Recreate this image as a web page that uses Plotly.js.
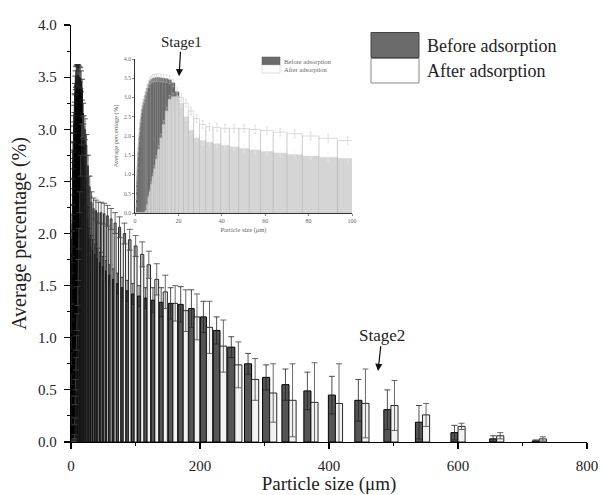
<!DOCTYPE html>
<html>
<head>
<meta charset="utf-8">
<script src="https://cdn.plot.ly/plotly-3.0.1.min.js"></script>
<style>html,body{margin:0;padding:0;background:#fff;}#chart{width:604px;height:495px;}</style>
</head>
<body>
<div id="chart"></div>
<script>
// Particle size bins (µm)
const sizes = [0.62,0.68,0.75,0.82,0.9,1.0,1.1,1.2,1.35,1.5,1.6,1.8,2.0,2.2,2.4,2.6,2.9,3.2,3.5,3.8,4.2,4.6,5.1,5.6,6.2,6.8,7.5,8.2,9.0,9.9,10.9,12.0,13.2,14.6,16.0,17.6,19.4,21.3,23.5,25.8,28.4,31.2,34.3,37.8,41.5,45.7,50.3,55.3,60.8,66.9,73.6,81,89,98,108,118,130,143,158,174,191,210,231,254,280,308,338,372,410,451,496,545,600,660,726];
// Average percentage (%) before adsorption
const before = [0.2,0.4,0.6,0.8,0.95,1.1,1.25,1.4,1.55,1.7,1.8,1.95,2.1,2.2,2.35,2.45,2.6,2.7,2.8,2.88,2.95,3.05,3.15,3.25,3.35,3.42,3.47,3.5,3.51,3.52,3.52,3.51,3.5,3.49,3.46,3.38,3.15,2.85,2.5,2.15,1.95,1.88,1.84,1.8,1.76,1.72,1.68,1.64,1.6,1.56,1.52,1.48,1.45,1.42,1.40,1.38,1.36,1.34,1.33,1.32,1.28,1.2,1.07,0.91,0.75,0.62,0.55,0.49,0.45,0.40,0.31,0.19,0.09,0.03,0.01];
// Average percentage (%) after adsorption
const after = [0,0,0,0,0,0,0,0,0,0,0,0,0,0,0,0,0,0,0,0,0,0.02,0.05,0.2,0.4,0.55,0.75,0.95,1.15,1.4,1.65,1.95,2.3,2.65,2.95,3.02,3.03,3.0,2.85,2.65,2.45,2.3,2.24,2.22,2.2,2.2,2.19,2.17,2.14,2.1,2.06,2.0,1.94,1.88,1.8,1.7,1.56,1.44,1.33,1.26,1.2,1.1,0.92,0.74,0.6,0.47,0.40,0.38,0.37,0.37,0.35,0.26,0.15,0.06,0.03];
// Error bars
const errBefore = [0.04,0.05,0.05,0.06,0.06,0.06,0.07,0.07,0.07,0.08,0.08,0.08,0.08,0.08,0.08,0.08,0.08,0.08,0.08,0.08,0.08,0.08,0.08,0.09,0.09,0.09,0.09,0.1,0.1,0.1,0.1,0.1,0.1,0.1,0.1,0.1,0.1,0.1,0.1,0.1,0.1,0.1,0.1,0.1,0.1,0.1,0.1,0.1,0.1,0.1,0.1,0.1,0.1,0.1,0.1,0.1,0.12,0.14,0.15,0.17,0.18,0.15,0.13,0.1,0.1,0.12,0.15,0.18,0.18,0.2,0.19,0.16,0.07,0.03,0.01];
const errAfter = [0,0,0,0,0,0,0,0,0,0,0,0,0,0,0,0,0,0,0,0,0,0.01,0.02,0.03,0.04,0.05,0.06,0.07,0.08,0.09,0.1,0.1,0.1,0.1,0.1,0.1,0.1,0.1,0.1,0.1,0.1,0.1,0.1,0.1,0.1,0.1,0.1,0.1,0.1,0.1,0.1,0.1,0.1,0.1,0.12,0.13,0.15,0.16,0.17,0.2,0.22,0.25,0.25,0.22,0.2,0.28,0.35,0.38,0.38,0.33,0.24,0.11,0.03,0.03,0.02];

const seriesNames = ['Before adsorption', 'After adsorption'];
const xTitle = 'Particle size (μm)';
const yTitle = 'Average percentage (%)';

// bar widths (style)
const wMain = sizes.map(c => Math.min(0.045 * c, 11));
const wInset = sizes.map(c => 0.095 * c);

const serif = 'Liberation Serif, Times New Roman, serif';
const traces = [
  {type:'bar', x:sizes, y:before, width:wMain, offset:wMain.map(w=>-w), name:seriesNames[0],
   marker:{color:'#555555', line:{color:'#000', width:1}},
   error_y:{type:'data', array:errBefore, color:'#222', thickness:0.8, width:3}, xaxis:'x', yaxis:'y'},
  {type:'bar', x:sizes, y:after, width:wMain, offset:wMain.map(w=>0), name:seriesNames[1],
   marker:{color:'#f2f2f2', line:{color:'#111', width:0.9}},
   error_y:{type:'data', array:errAfter, color:'#444', thickness:0.8, width:3}, xaxis:'x', yaxis:'y'},
  {type:'bar', x:sizes, y:before, width:wInset, offset:wInset.map(w=>-w/2), name:seriesNames[0],
   marker:{color:'#6a6a6a', line:{color:'#6a6a6a', width:0.3}},
   error_y:{type:'data', array:errBefore, color:'#c4c4c4', thickness:0.5, width:1}, xaxis:'x2', yaxis:'y2'},
  {type:'bar', x:sizes, y:after, width:wInset, offset:wInset.map(w=>-w/2), name:seriesNames[1],
   marker:{color:'rgba(255,255,255,0.72)', line:{color:'#b8b8b8', width:0.5}},
   error_y:{type:'data', array:errAfter, color:'#c4c4c4', thickness:0.5, width:1}, xaxis:'x2', yaxis:'y2'}
];

const L = 71, T = 25, W = 516, H = 417;
const fx = px => (px - L) / W;
const fy = py => (T + H - py) / H;

const shapes = [
  {type:'rect', xref:'paper', yref:'paper', x0:fx(371), x1:fx(419), y0:fy(57.5), y1:fy(32.5), fillcolor:'#6b6b6b', line:{color:'#444', width:1}},
  {type:'rect', xref:'paper', yref:'paper', x0:fx(371), x1:fx(419), y0:fy(83), y1:fy(58.5), fillcolor:'#ffffff', line:{color:'#888', width:1}},
  {type:'rect', xref:'paper', yref:'paper', x0:fx(262), x1:fx(280), y0:fy(65), y1:fy(57), fillcolor:'#6b6b6b', line:{color:'#555', width:0.5}},
  {type:'rect', xref:'paper', yref:'paper', x0:fx(262), x1:fx(280), y0:fy(73), y1:fy(65), fillcolor:'#ffffff', line:{color:'#bbb', width:0.5}}
];

const annotations = [
  {xref:'paper', yref:'paper', x:fx(425), y:fy(46), xanchor:'left', yanchor:'middle', text:seriesNames[0], showarrow:false, font:{family:serif, size:18, color:'#222'}},
  {xref:'paper', yref:'paper', x:fx(425), y:fy(71), xanchor:'left', yanchor:'middle', text:seriesNames[1], showarrow:false, font:{family:serif, size:18, color:'#222'}},
  {xref:'paper', yref:'paper', x:fx(282), y:fy(61), xanchor:'left', yanchor:'middle', text:seriesNames[0], showarrow:false, font:{family:serif, size:6.5, color:'#666'}},
  {xref:'paper', yref:'paper', x:fx(282), y:fy(69), xanchor:'left', yanchor:'middle', text:seriesNames[1], showarrow:false, font:{family:serif, size:6.5, color:'#666'}},
  {xref:'x2', yref:'y2', x:20.3, y:3.55, ax:2, ay:-34, text:'Stage1', showarrow:true, arrowhead:2, arrowsize:1.2, arrowwidth:1.2, arrowcolor:'#111', font:{family:serif, size:15, color:'#222'}},
  {xref:'x', yref:'y', x:476, y:0.68, ax:4, ay:-36, text:'Stage2', showarrow:true, arrowhead:2, arrowsize:1.2, arrowwidth:1.2, arrowcolor:'#111', font:{family:serif, size:17, color:'#222'}}
];

const layout = {
  width:604, height:495,
  margin:{l:L, r:604-L-W, t:T, b:495-T-H, pad:0},
  paper_bgcolor:'#fff', plot_bgcolor:'#fff',
  barmode:'overlay', showlegend:false,
  font:{family:serif, color:'#222'},
  xaxis:{domain:[0,1], anchor:'y', range:[0,800], tick0:0, dtick:200, showgrid:false, zeroline:false,
    showline:true, linecolor:'#000', linewidth:1.3, ticks:'outside', ticklen:6, tickwidth:1.2, tickcolor:'#000',
    minor:{dtick:100, ticks:'outside', ticklen:3, tickwidth:1, tickcolor:'#000'},
    tickfont:{family:serif, size:15, color:'#222'}, ticklabelstandoff:4,
    title:{text:xTitle, font:{family:serif, size:19, color:'#222'}, standoff:4}},
  yaxis:{domain:[0,1], anchor:'x', range:[0,4], tick0:0, dtick:0.5, tickformat:'.1f', showgrid:false, zeroline:false,
    showline:true, linecolor:'#000', linewidth:1.3, ticks:'outside', ticklen:6, tickwidth:1.2, tickcolor:'#000',
    minor:{dtick:0.25, ticks:'outside', ticklen:3, tickwidth:1, tickcolor:'#000'},
    tickfont:{family:serif, size:15, color:'#222'}, ticklabelstandoff:4,
    title:{text:yTitle, font:{family:serif, size:20, color:'#222'}, standoff:6}},
  xaxis2:{domain:[fx(135), fx(352)], anchor:'y2', range:[0,100], tick0:0, dtick:20, showgrid:false, zeroline:false,
    showline:true, linecolor:'#333', linewidth:1, ticks:'outside', ticklen:2, tickwidth:0.6, tickcolor:'#333',
    tickfont:{family:serif, size:6, color:'#666'},
    title:{text:xTitle, font:{family:serif, size:6.5, color:'#666'}, standoff:4}},
  yaxis2:{domain:[fy(213), fy(59)], anchor:'x2', range:[0,4], tick0:0, dtick:0.5, tickformat:'.1f', showgrid:false, zeroline:false,
    showline:true, linecolor:'#333', linewidth:1, ticks:'outside', ticklen:2, tickwidth:0.6, tickcolor:'#333',
    tickfont:{family:serif, size:5.5, color:'#666'},
    title:{text:yTitle, font:{family:serif, size:6.5, color:'#666'}, standoff:4}},
  shapes:shapes,
  annotations:annotations
};

Plotly.newPlot('chart', traces, layout, {displayModeBar:false, staticPlot:true});
</script>
</body>
</html>
